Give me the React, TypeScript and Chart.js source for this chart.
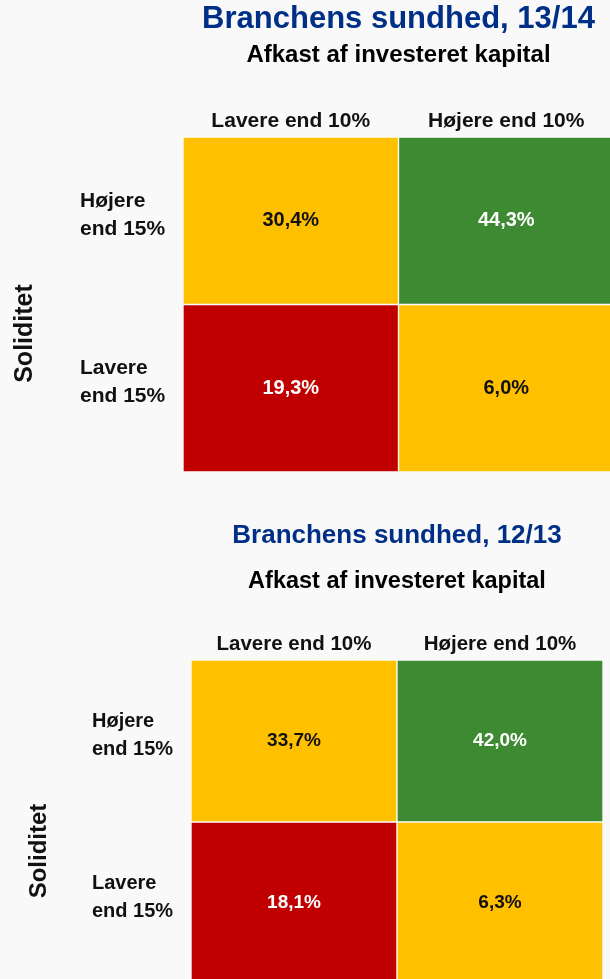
import React, { useEffect, useRef } from "react";
import { Chart, registerables } from "chart.js";

Chart.register(...registerables);

// ---------- data ----------
const columns = ["Lavere end 10%", "Højere end 10%"];
const rowLabelHigh = ["Højere", "end 15%"];
const rowLabelLow = ["Lavere", "end 15%"];
const titles = ["Branchens sundhed, 13/14", "Branchens sundhed, 12/13"];
const subtitleText = "Afkast af investeret kapital";
const axisTitle = "Soliditet";
const high1314 = [30.4, 44.3];
const low1314 = [19.3, 6.0];
const high1213 = [33.7, 42.0];
const low1213 = [18.1, 6.3];
const cellUnit = [1, 1];

// ---------- styles ----------
const FONT = "'Liberation Sans', Arial, Helvetica, sans-serif";
const YELLOW = "#FFC000";
const GREEN = "#3E8A33";
const RED = "#C00000";
const BLUE = "#002F87";
const INK = "#111111";
const WHITE = "#FFFFFF";

const fmt = (v: number) => v.toFixed(1).replace(".", ",") + "%";

const cellLabelPlugin = {
  id: "cellLabels",
  afterDatasetsDraw(chart: any, _args: any, opts: any) {
    const ctx = chart.ctx;
    ctx.save();
    ctx.font = `bold ${opts.size}px ${FONT}`;
    ctx.textAlign = "center";
    ctx.textBaseline = "middle";
    chart.data.datasets.forEach((ds: any, di: number) => {
      const meta = chart.getDatasetMeta(di);
      meta.data.forEach((el: any, i: number) => {
        const { x, y, base } = el.getProps(["x", "y", "base"], true);
        ctx.fillStyle = ds.textColor[i];
        ctx.fillText(fmt(ds.cellValues[i]), x, (y + base) / 2 + opts.dy);
      });
    });
    ctx.restore();
  },
};

const rowLabelPlugin = {
  id: "rowLabels",
  afterDraw(chart: any, _args: any, opts: any) {
    const ctx = chart.ctx;
    const area = chart.chartArea;
    ctx.save();
    ctx.font = `bold ${opts.size}px ${FONT}`;
    ctx.fillStyle = INK;
    ctx.textAlign = "left";
    ctx.textBaseline = "alphabetic";
    chart.data.datasets.forEach((ds: any, di: number) => {
      const el: any = chart.getDatasetMeta(di).data[0];
      const { y, base } = el.getProps(["y", "base"], true);
      const mid = (y + base) / 2;
      const lines: string[] = ds.rowLabel;
      ctx.fillText(lines[0], opts.x, mid - opts.gapUp);
      ctx.fillText(lines[1], opts.x, mid + opts.gapDown);
    });
    ctx.font = `bold ${opts.titleSize}px ${FONT}`;
    ctx.translate(opts.titleX, (area.top + area.bottom) / 2 + opts.titleDy);
    ctx.rotate(-Math.PI / 2);
    ctx.textAlign = "center";
    ctx.textBaseline = "middle";
    ctx.fillText(axisTitle, 0, 0);
    ctx.restore();
  },
};

type Geo = {
  pad: { left: number; right: number; top: number; bottom: number };
  titleSize: number;
  titlePadTop: number;
  subSize: number;
  subPadTop: number;
  axisHeight: number;
  headSize: number;
  headPad: number;
  valueSize: number;
  rowSize: number;
  rowX: number;
  axisTitleSize: number;
  axisTitleX: number;
};

function buildConfig(title: string, high: number[], low: number[], g: Geo): any {
  return {
    type: "bar",
    data: {
      labels: columns,
      datasets: [
        {
          label: rowLabelLow.join(" "),
          data: cellUnit,
          cellValues: low,
          rowLabel: rowLabelLow,
          backgroundColor: [RED, YELLOW],
          textColor: [WHITE, INK],
          borderColor: "rgba(255,255,255,0.95)",
          borderWidth: 1,
          borderSkipped: false,
          barPercentage: 1,
          categoryPercentage: 1,
        },
        {
          label: rowLabelHigh.join(" "),
          data: cellUnit,
          cellValues: high,
          rowLabel: rowLabelHigh,
          backgroundColor: [YELLOW, GREEN],
          textColor: [INK, WHITE],
          borderColor: "rgba(255,255,255,0.95)",
          borderWidth: 1,
          borderSkipped: false,
          barPercentage: 1,
          categoryPercentage: 1,
        },
      ],
    },
    options: {
      responsive: false,
      animation: false,
      devicePixelRatio: 1,
      layout: { padding: g.pad },
      events: [],
      plugins: {
        legend: { display: false },
        tooltip: { enabled: false },
        title: {
          display: true,
          text: title,
          color: BLUE,
          font: { family: FONT, size: g.titleSize, weight: "bold", lineHeight: 1 },
          padding: { top: g.titlePadTop, bottom: 0 },
        },
        subtitle: {
          display: true,
          text: subtitleText,
          color: "#000000",
          font: { family: FONT, size: g.subSize, weight: "bold", lineHeight: 1 },
          padding: { top: g.subPadTop, bottom: 0 },
        },
        cellLabels: { size: g.valueSize, dy: 0 },
        rowLabels: {
          size: g.rowSize,
          x: g.rowX,
          gapUp: 14,
          gapDown: 14,
          titleSize: g.axisTitleSize,
          titleX: g.axisTitleX,
          titleDy: 29,
        },
      },
      scales: {
        x: {
          type: "category",
          position: "top",
          stacked: true,
          offset: true,
          grid: { display: false, drawTicks: false },
          border: { display: false },
          ticks: {
            color: INK,
            font: { family: FONT, size: g.headSize, weight: "bold", lineHeight: 1.2 },
            padding: g.headPad,
            maxRotation: 0,
            autoSkip: false,
          },
          afterFit: (s: any) => {
            s.height = g.axisHeight;
          },
        },
        y: { type: "linear", stacked: true, min: 0, max: 2, display: false },
      },
    },
    plugins: [cellLabelPlugin, rowLabelPlugin],
  };
}

const topGeo: Geo = {
  pad: { left: 183, right: 0, top: 0, bottom: 18 },
  titleSize: 31,
  titlePadTop: 4,
  subSize: 24,
  subPadTop: 8,
  axisHeight: 70,
  headSize: 21,
  headPad: 3,
  valueSize: 20,
  rowSize: 21,
  rowX: 80,
  axisTitleSize: 25,
  axisTitleX: 25,
};

const bottomGeo: Geo = {
  pad: { left: 191, right: 7, top: 0, bottom: 0 },
  titleSize: 26,
  titlePadTop: 33,
  subSize: 23.5,
  subPadTop: 21,
  axisHeight: 66.5,
  headSize: 20.5,
  headPad: 3,
  valueSize: 19,
  rowSize: 20,
  rowX: 92,
  axisTitleSize: 24,
  axisTitleX: 39,
};

function Matrix({ config, width, height }: { config: any; width: number; height: number }) {
  const ref = useRef<HTMLCanvasElement>(null);
  useEffect(() => {
    const chart = new Chart(ref.current as HTMLCanvasElement, config);
    return () => chart.destroy();
  }, [config]);
  return <canvas ref={ref} width={width} height={height} style={{ display: "block", width, height }} />;
}

const topConfig = buildConfig(titles[0], high1314, low1314, topGeo);
const bottomConfig = buildConfig(titles[1], high1213, low1213, bottomGeo);

export default function App() {
  return (
    <div
      style={{
        position: "fixed",
        left: 0,
        top: 0,
        width: 610,
        height: 979,
        overflow: "hidden",
        background: "#f9f9f9",
      }}
    >
      <Matrix config={topConfig} width={614} height={490} />
      <Matrix config={bottomConfig} width={610} height={494} />
    </div>
  );
}
